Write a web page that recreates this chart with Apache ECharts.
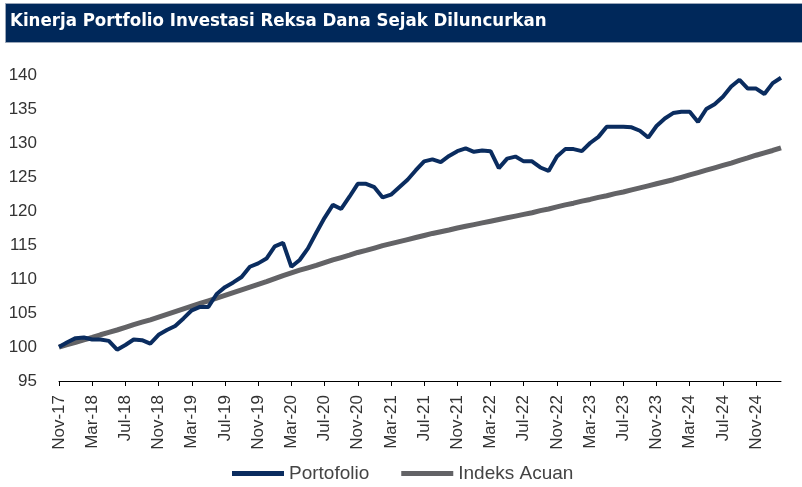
<!DOCTYPE html>
<html>
<head>
<meta charset="utf-8">
<script src="https://cdn.jsdelivr.net/npm/echarts@6/dist/echarts.min.js"></script>
<style>
  html, body { margin: 0; padding: 0; background: #fff; }
  #chart { width: 802px; height: 487px; }
</style>
</head>
<body>
<div id="chart"></div>
<script>
// bulan Nov-17 s/d Feb-25
const monthNames = ['Jan', 'Feb', 'Mar', 'Apr', 'May', 'Jun', 'Jul', 'Aug', 'Sep', 'Oct', 'Nov', 'Dec']
const categories = []
for (let k = 0; k < 88; k++) {
  const m = (10 + k) % 12
  const y = 17 + Math.floor((10 + k) / 12)
  categories.push(monthNames[m] + '-' + y)
}

const portofolio = [
  100.0, 100.7, 101.3, 101.4, 101.1, 101.1, 100.9, 99.6,
  100.3, 101.1, 101.0, 100.5, 101.8, 102.5, 103.1, 104.2,
  105.4, 105.9, 105.9, 107.8, 108.8, 109.5, 110.3, 111.8,
  112.3, 113.0, 114.8, 115.3, 111.8, 112.8, 114.5, 116.8,
  119.0, 120.9, 120.3, 122.1, 124.0, 124.0, 123.5, 122.0,
  122.4, 123.5, 124.6, 126.0, 127.3, 127.6, 127.2, 128.1,
  128.8, 129.2, 128.7, 128.9, 128.8, 126.3, 127.7, 128.0,
  127.3, 127.3, 126.4, 125.9, 128.0, 129.1, 129.1, 128.8,
  130.0, 130.9, 132.4, 132.4, 132.4, 132.3, 131.8, 130.8,
  132.5, 133.6, 134.4, 134.6, 134.6, 133.1, 135.0, 135.7,
  136.8, 138.3, 139.3, 138.0, 138.0, 137.2, 138.8, 139.6
]

const indeksAcuan = [
  100.0, 100.35, 100.7, 101.05, 101.4, 101.8, 102.15, 102.5,
  102.9, 103.3, 103.65, 104.0, 104.4, 104.8, 105.2, 105.6,
  106.0, 106.4, 106.8, 107.2, 107.6, 108.0, 108.4, 108.8,
  109.2, 109.6, 110.05, 110.5, 110.9, 111.3, 111.65, 112.0,
  112.4, 112.8, 113.15, 113.5, 113.9, 114.2, 114.55, 114.9,
  115.2, 115.5, 115.8, 116.1, 116.4, 116.7, 116.95, 117.2,
  117.5, 117.75, 118.0, 118.25, 118.5, 118.75, 119.0, 119.25,
  119.5, 119.75, 120.05, 120.3, 120.6, 120.9, 121.15, 121.45,
  121.7, 122.0, 122.25, 122.55, 122.8, 123.1, 123.4, 123.7,
  124.0, 124.3, 124.6, 124.95, 125.3, 125.65, 126.0, 126.35,
  126.7, 127.05, 127.45, 127.8, 128.2, 128.55, 128.9, 129.3
]

const yTicks = { min: 95, max: 140, step: 5 }

const narrow = "'Liberation Sans Narrow', 'DejaVu Sans Condensed', sans-serif"
const sans = "'Liberation Sans', Arial, sans-serif"

const chart = echarts.init(document.getElementById('chart'))
chart.setOption({
  animation: false,
  graphic: [
    {
      type: 'rect',
      left: 5, top: 3,
      shape: { width: 797, height: 39 },
      style: { fill: '#00285a', stroke: '#9aa6b8', lineWidth: 1 }
    },
    {
      type: 'text',
      left: 10, top: 12,
      style: {
        text: 'Kinerja Portfolio Investasi Reksa Dana Sejak Diluncurkan',
        fill: '#fff',
        font: 'bold 18.5px ' + narrow
      }
    }
  ],
  grid: { left: 59, right: 21, top: 75, bottom: 106 },
  legend: {
    left: 232, top: 464,
    padding: 0,
    icon: 'rect',
    itemWidth: 52, itemHeight: 5,
    itemGap: 32,
    textStyle: { fontFamily: sans, fontSize: 19, color: '#444' },
    data: ['Portofolio', 'Indeks Acuan']
  },
  xAxis: {
    type: 'category',
    data: categories,
    boundaryGap: false,
    axisLine: { lineStyle: { color: '#000', width: 1 } },
    axisTick: { interval: 3, length: 5, lineStyle: { color: '#000' } },
    axisLabel: {
      interval: 3,
      rotate: 90,
      margin: 14,
      fontFamily: sans,
      fontSize: 17,
      color: '#333'
    },
    splitLine: { show: false }
  },
  yAxis: {
    type: 'value',
    min: yTicks.min, max: yTicks.max, interval: yTicks.step,
    axisLine: { show: false },
    axisTick: { show: false },
    splitLine: { show: false },
    axisLabel: { margin: 22, fontFamily: sans, fontSize: 17, color: '#333' }
  },
  series: [
    {
      name: 'Indeks Acuan',
      type: 'line',
      data: indeksAcuan,
      showSymbol: false,
      lineStyle: { color: '#636366', width: 5 },
      itemStyle: { color: '#636366' },
      z: 2
    },
    {
      name: 'Portofolio',
      type: 'line',
      data: portofolio,
      showSymbol: false,
      lineStyle: { color: '#0a2c5f', width: 4 },
      itemStyle: { color: '#0a2c5f' },
      z: 3
    }
  ]
})
</script>
</body>
</html>
